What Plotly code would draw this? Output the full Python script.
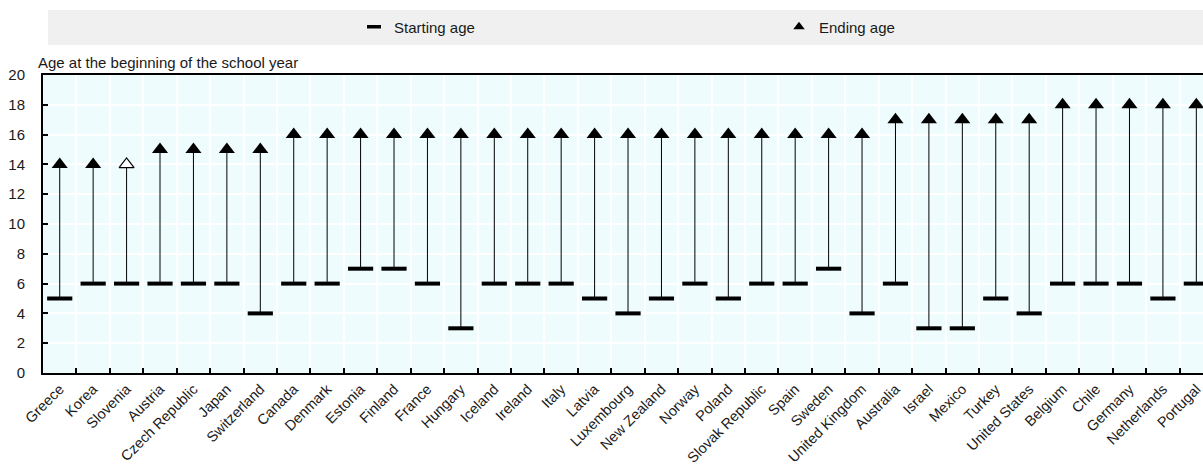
import plotly.graph_objects as go

countries = ["Greece", "Korea", "Slovenia", "Austria", "Czech Republic", "Japan", "Switzerland",
             "Canada", "Denmark", "Estonia", "Finland", "France", "Hungary", "Iceland", "Ireland",
             "Italy", "Latvia", "Luxembourg", "New Zealand", "Norway", "Poland", "Slovak Republic",
             "Spain", "Sweden", "United Kingdom", "Australia", "Israel", "Mexico", "Turkey",
             "United States", "Belgium", "Chile", "Germany", "Netherlands", "Portugal"]
starting_age = [5, 6, 6, 6, 6, 6, 4,
                6, 6, 7, 7, 6, 3, 6, 6,
                6, 5, 4, 5, 6, 5, 6,
                6, 7, 4, 6, 3, 3, 5,
                4, 6, 6, 6, 5, 6]
ending_age = [14, 14, 14, 15, 15, 15, 15,
              16, 16, 16, 16, 16, 16, 16, 16,
              16, 16, 16, 16, 16, 16, 16,
              16, 16, 16, 17, 17, 17, 17,
              17, 18, 18, 18, 18, 18]
hollow_end = ["Slovenia"]
y_ticks = [0, 2, 4, 6, 8, 10, 12, 14, 16, 18, 20]

FONT = "Liberation Sans, Arial, sans-serif"
TXT = "#1a1a1a"

W, H = 1203, 467
ML, MR, MT, MB = 43, 0, 75, 94

fig = go.Figure()

# stems
lx, ly = [], []
for c, s, e in zip(countries, starting_age, ending_age):
    lx += [c, c, None]
    ly += [s, e, None]
fig.add_trace(go.Scatter(x=lx, y=ly, mode="lines", line=dict(color="black", width=1),
                         showlegend=False, hoverinfo="skip"))

fig.add_trace(go.Scatter(
    x=countries, y=starting_age, mode="markers", name="Starting age", showlegend=False,
    marker=dict(symbol="line-ew", size=18, line=dict(color="black", width=4), color="black")))

solid_x = [c for c in countries if c not in hollow_end]
solid_y = [e for c, e in zip(countries, ending_age) if c not in hollow_end]
hol_x = [c for c in countries if c in hollow_end]
hol_y = [e for c, e in zip(countries, ending_age) if c in hollow_end]

fig.add_trace(go.Scatter(
    x=solid_x, y=solid_y, mode="markers", name="Ending age", showlegend=False,
    marker=dict(symbol="triangle-up", size=14, color="black", line=dict(width=0))))
fig.add_trace(go.Scatter(
    x=hol_x, y=hol_y, mode="markers", name="Ending age", showlegend=False,
    marker=dict(symbol="triangle-up", size=13, color="white", line=dict(color="black", width=1.2))))

# legend-only entries (smaller symbols)
fig.add_trace(go.Scatter(
    x=[None], y=[None], mode="markers", name="Starting age",
    marker=dict(symbol="line-ew", size=10, line=dict(color="black", width=3.5), color="black")))
fig.add_trace(go.Scatter(
    x=[None], y=[None], mode="markers", name="Ending age",
    marker=dict(symbol="triangle-up", size=10, color="black", line=dict(width=0))))

pw = W - ML - MR
ph = H - MT - MB
def px_x(x):
    return (x - ML) / pw
def px_y(y):
    return (H - MB - y) / ph

slot = 33.43
xmax = (pw / slot) - 0.5

fig.update_layout(
    width=W, height=H, autosize=False,
    margin=dict(l=ML, r=MR, t=MT, b=MB, pad=0, autoexpand=False),
    paper_bgcolor="white",
    plot_bgcolor="#EFFCFE",
    font=dict(family=FONT, size=14, color=TXT),
    showlegend=True,
    legend=dict(orientation="h", x=px_x(354), y=px_y(27), xanchor="left", yanchor="middle",
                bgcolor="rgba(0,0,0,0)", entrywidth=380, entrywidthmode="pixels",
                font=dict(family=FONT, size=15, color=TXT), itemwidth=30),
    shapes=[dict(type="rect", xref="paper", yref="paper", x0=px_x(48), x1=1.0,
                 y0=px_y(45), y1=px_y(10), fillcolor="#F0F0F0", line=dict(width=0), layer="below")],
    annotations=[dict(text="Age at the beginning of the school year", xref="paper", yref="paper",
                      x=px_x(36), y=px_y(62), xanchor="left", yanchor="middle", showarrow=False,
                      font=dict(family=FONT, size=15, color=TXT))],
)

fig.update_xaxes(
    type="category", categoryorder="array", categoryarray=countries,
    range=[-0.5, xmax], tickson="boundaries", ticks="inside", ticklen=5, tickwidth=1.5,
    tickcolor="black", showline=True, linecolor="black", linewidth=2, mirror=True,
    showgrid=True, gridcolor="white", gridwidth=1.5, tickangle=-45,
    tickfont=dict(family=FONT, size=14.5, color=TXT), zeroline=False, automargin=False)
fig.update_yaxes(
    range=[0, 20], tickvals=y_ticks, ticks="inside", ticklen=5, tickwidth=1.5, tickcolor="black",
    showline=True, linecolor="black", linewidth=2, showgrid=True, gridcolor="white", gridwidth=1.5,
    tickfont=dict(family=FONT, size=15, color=TXT), zeroline=False, ticklabelstandoff=13,
    automargin=False)

fig.write_html("out.html",
               config={"displayModeBar": False, "responsive": False},
               post_script="document.body.style.margin='0';document.body.style.padding='0';"
                           "document.body.style.overflow='hidden';"
                           "document.documentElement.style.overflow='hidden';")
